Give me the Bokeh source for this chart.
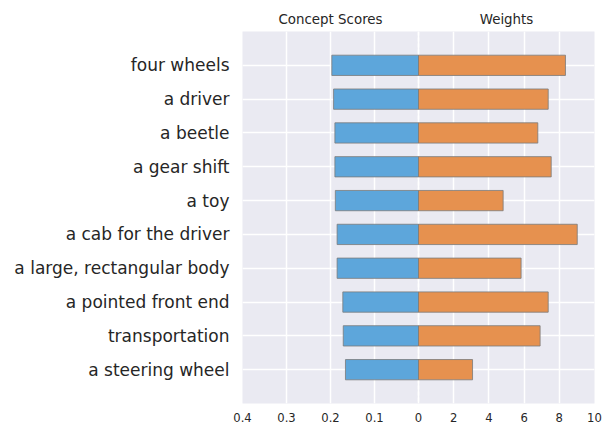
from bokeh.plotting import figure
from bokeh.layouts import column
from bokeh.models import (FactorRange, Range1d, FixedTicker, Span, ColumnDataSource,
                          CustomJSTickFormatter, Label)
from bokeh.embed import file_html
from bokeh.resources import INLINE

concepts = ["four wheels", "a driver", "a beetle", "a gear shift", "a toy",
            "a cab for the driver", "a large, rectangular body",
            "a pointed front end", "transportation", "a steering wheel"]
concept_scores = [0.197, 0.193, 0.190, 0.190, 0.189, 0.185, 0.185, 0.172, 0.171, 0.166]
weights = [8.35, 7.37, 6.78, 7.54, 4.81, 9.02, 5.83, 7.37, 6.91, 3.07]
score_ticks = [0.4, 0.3, 0.2, 0.1, 0]
weight_ticks = [2, 4, 6, 8, 10]
panel_titles = ["Concept Scores", "Weights"]
SCORE_MAX = 0.4
WEIGHT_MAX = 10

FONT = "DejaVu Sans"
BG = "#EAEAF2"
TXT = "#262626"
BLUE = "#5DA6DB"
ORANGE = "#E6914F"
EDGE = "#7a7a7a"

factors = list(reversed(concepts))
src = ColumnDataSource(dict(c=concepts, s=concept_scores, w=weights, z=[0] * len(concepts)))

ratio = WEIGHT_MAX / SCORE_MAX
tick_pos = score_ticks + [-w / ratio for w in weight_ticks]

LEFT = 242
RIGHT = 13
FRAME_W = 352
TOP = 31
BOT = 25
FRAME_H = 372
W = LEFT + FRAME_W + RIGHT

# title strip, sharing the same horizontal ranges
t = figure(width=W, height=TOP, output_backend="svg", toolbar_location=None,
           x_range=Range1d(SCORE_MAX, -SCORE_MAX), y_range=Range1d(0, TOP),
           min_border_left=LEFT, min_border_right=RIGHT, min_border_top=0, min_border_bottom=0)
t.extra_x_ranges = {"w": Range1d(-WEIGHT_MAX, WEIGHT_MAX)}
t.axis.visible = False
t.grid.visible = False
t.outline_line_color = None
t.background_fill_color = "white"
t.border_fill_color = "white"
for x, txt, rng in [(SCORE_MAX / 2, panel_titles[0], "default"), (WEIGHT_MAX / 2, panel_titles[1], "w")]:
    t.add_layout(Label(x=x, y=12, text=txt, x_range_name=rng,
                       text_align="center", text_baseline="alphabetic",
                       text_font=FONT, text_font_size="13.4px", text_color=TXT))

p = figure(width=W, height=FRAME_H + BOT, output_backend="svg", toolbar_location=None,
           x_range=t.x_range,
           y_range=FactorRange(factors=factors, range_padding=0.1),
           min_border_left=LEFT, min_border_right=RIGHT,
           min_border_top=0, min_border_bottom=BOT)
p.extra_x_ranges = {"w": t.extra_x_ranges["w"]}
p.background_fill_color = BG
p.border_fill_color = "white"
p.outline_line_color = None
for ax in (p.xaxis[0], p.yaxis[0]):
    ax.axis_line_color = None
    ax.major_tick_line_color = None
    ax.minor_tick_line_color = None
    ax.major_tick_out = 0
    ax.major_tick_in = 0
    ax.major_label_text_font = FONT
    ax.major_label_text_color = TXT
p.xaxis.major_label_text_font_size = "11.6px"
p.xaxis.major_label_standoff = 9
p.xaxis.ticker = FixedTicker(ticks=tick_pos)
p.xaxis.formatter = CustomJSTickFormatter(args=dict(ratio=ratio), code="""
    if (Math.abs(tick) < 1e-9) { return "0"; }
    if (tick > 0) { return tick.toFixed(1); }
    return String(Math.round(-tick * ratio));
""")
p.yaxis.major_label_text_font_size = "17px"
p.yaxis.major_label_standoff = 13
p.xgrid.grid_line_color = "white"
p.xgrid.grid_line_width = 1.5
p.ygrid.grid_line_color = "white"
p.ygrid.grid_line_width = 1.5

p.add_layout(Span(location=0, dimension="height", line_color="white", line_width=1.5,
                  line_dash="4 2", level="underlay"))

p.hbar(y="c", left="s", right="z", height=0.6, source=src, fill_color=BLUE,
       line_color=EDGE, line_alpha=0.8, line_width=1)
p.hbar(y="c", left="z", right="w", height=0.6, source=src, fill_color=ORANGE,
       line_color=EDGE, line_alpha=0.8, line_width=1, x_range_name="w")

layout = column(t, p, spacing=0)
open("out.html", "w").write(file_html(layout, INLINE))
